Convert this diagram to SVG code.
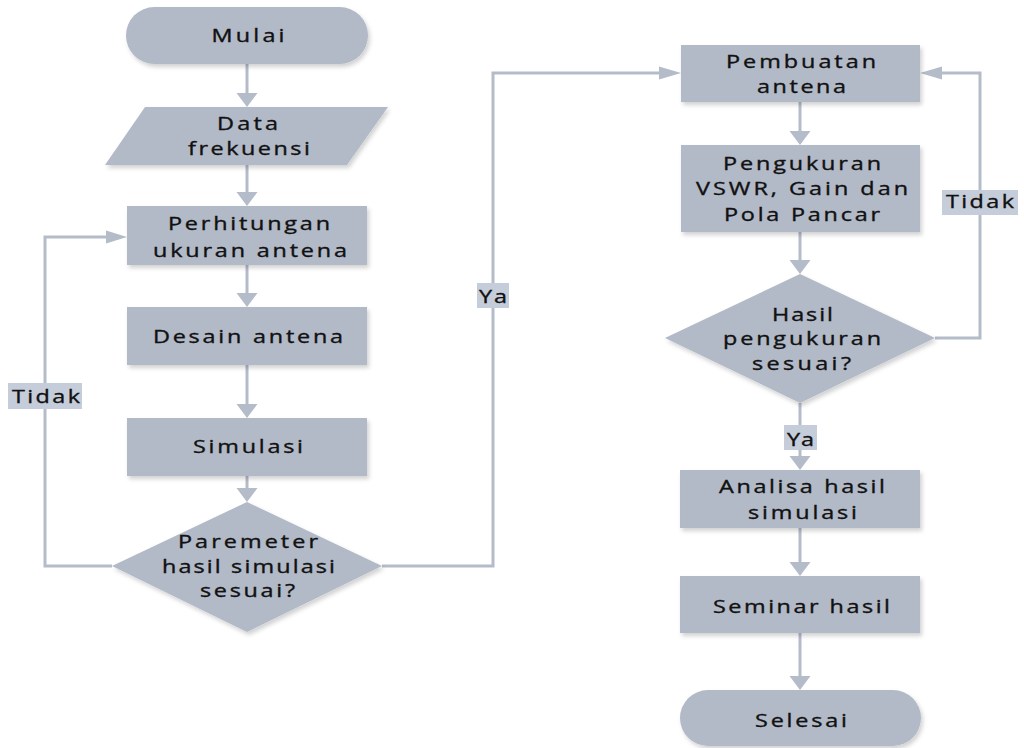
<svg xmlns="http://www.w3.org/2000/svg" width="1024" height="748" viewBox="0 0 1024 748">
<defs>
<filter id="sh" x="-10%" y="-10%" width="130%" height="140%">
<feDropShadow dx="2" dy="3" stdDeviation="2" flood-color="#000" flood-opacity="0.18"/>
</filter>
<style>
.n{fill:#b2b9c7;filter:url(#sh);}
.t{font-family:"Open Sans","Liberation Sans",sans-serif;font-size:18px;fill:#111111;stroke:#111111;stroke-width:0.35;text-anchor:middle;}
.c{fill:none;stroke:#b4bbc9;stroke-width:3;}
.a{fill:#b4bbc9;}
.lb{fill:#c6cdda;}
</style>
</defs>
<rect width="1024" height="748" fill="#ffffff"/>

<g id="connectors">
<path class="c" d="M247,64V94"/><polygon class="a" points="236.5,93 257.5,93 247,107"/>
<path class="c" d="M247,165V193"/><polygon class="a" points="236.5,192 257.5,192 247,206"/>
<path class="c" d="M247,265V294"/><polygon class="a" points="236.5,293 257.5,293 247,307"/>
<path class="c" d="M247,365V405"/><polygon class="a" points="236.5,404 257.5,404 247,418"/>
<path class="c" d="M247,476V489"/><polygon class="a" points="236.5,488 257.5,488 247,502"/>
<path class="c" d="M112,566H45V237H107"/><polygon class="a" points="106,230.5 106,243.5 127,237"/>
<path class="c" d="M382,566H493V73H660"/><polygon class="a" points="659,66.5 659,79.5 681,73"/>
<path class="c" d="M800,102V132"/><polygon class="a" points="789.5,131 810.5,131 800,145"/>
<path class="c" d="M800,232V261"/><polygon class="a" points="789.5,260 810.5,260 800,274"/>
<path class="c" d="M935,338H980V73H941"/><polygon class="a" points="942,66.5 942,79.5 920,73"/>
<path class="c" d="M800,403V457"/><polygon class="a" points="789.5,456 810.5,456 800,470"/>
<path class="c" d="M800,528V563"/><polygon class="a" points="789.5,562 810.5,562 800,576"/>
<path class="c" d="M800,633V677"/><polygon class="a" points="789.5,676 810.5,676 800,690"/>
<g id="label-tidak-left"><rect class="lb" x="8" y="383" width="74" height="26"/><text class="t" transform="matrix(1.3 0 0 1 -13.8 0)" x="46" y="403" textLength="52.3">Tidak</text></g>
<g id="label-ya-mid"><rect class="lb" x="477" y="283" width="32" height="25"/><text class="t" transform="matrix(1.3 0 0 1 -147.9 0)" x="493" y="303" textLength="21.5">Ya</text></g>
<g id="label-tidak-right"><rect class="lb" x="942" y="190" width="76" height="25"/><text class="t" transform="matrix(1.3 0 0 1 -294 0)" x="980" y="208" textLength="52.3">Tidak</text></g>
<g id="label-ya-low"><rect class="lb" x="784" y="425" width="33" height="25"/><text class="t" transform="matrix(1.3 0 0 1 -240.15 0)" x="800.5" y="446" textLength="20.8">Ya</text></g>
</g>

<g id="mulai"><rect class="n" x="126" y="7" width="242" height="57" rx="28.5"/><text class="t" transform="matrix(1.3 0 0 1 -74.4 0)" x="248" y="42" textLength="56.2">Mulai</text></g>
<g id="data"><polygon class="n" points="145,107 388,107 347,165 105,165"/><text class="t" transform="matrix(1.3 0 0 1 -74.25 0)" x="247.5" y="130" textLength="46.9">Data</text><text class="t" transform="matrix(1.3 0 0 1 -74.7 0)" x="249" y="155" textLength="93.8">frekuensi</text></g>
<g id="perhitungan"><rect class="n" x="127" y="206" width="240" height="59"/><text class="t" transform="matrix(1.3 0 0 1 -74.7 0)" x="249" y="230" textLength="124.6">Perhitungan</text><text class="t" transform="matrix(1.3 0 0 1 -75 0)" x="250" y="257" textLength="149.2">ukuran antena</text></g>
<g id="desain"><rect class="n" x="127" y="307" width="240" height="58"/><text class="t" transform="matrix(1.3 0 0 1 -74.4 0)" x="248" y="343" textLength="146.2">Desain antena</text></g>
<g id="simulasi"><rect class="n" x="127" y="418" width="240" height="58"/><text class="t" transform="matrix(1.3 0 0 1 -74.4 0)" x="248" y="453" textLength="84.6">Simulasi</text></g>
<g id="parameter"><polygon class="n" points="247,502 382,566 247,632 112,566"/><text class="t" transform="matrix(1.3 0 0 1 -74.4 0)" x="248" y="548" textLength="107.7">Paremeter</text><text class="t" transform="matrix(1.3 0 0 1 -74.55 0)" x="248.5" y="573" textLength="133.1">hasil simulasi</text><text class="t" transform="matrix(1.3 0 0 1 -74.25 0)" x="247.5" y="597" textLength="73.1">sesuai?</text></g>

<g id="pembuatan"><rect class="n" x="681" y="45" width="239" height="57"/><text class="t" transform="matrix(1.3 0 0 1 -240.3 0)" x="801" y="68" textLength="115.4">Pembuatan</text><text class="t" transform="matrix(1.3 0 0 1 -240.45 0)" x="801.5" y="93" textLength="68.5">antena</text></g>
<g id="pengukuran"><rect class="n" x="681" y="145" width="239" height="87"/><text class="t" transform="matrix(1.3 0 0 1 -240.6 0)" x="802" y="170" textLength="121.5">Pengukuran</text><text class="t" transform="matrix(1.3 0 0 1 -240.6 0)" x="802" y="195" textLength="163.1">VSWR, Gain dan</text><text class="t" transform="matrix(1.3 0 0 1 -240.6 0)" x="802" y="221" textLength="120">Pola Pancar</text></g>
<g id="hasil"><polygon class="n" points="800,274 935,338 800,403 665,338"/><text class="t" transform="matrix(1.3 0 0 1 -240.75 0)" x="802.5" y="321" textLength="46.9">Hasil</text><text class="t" transform="matrix(1.3 0 0 1 -240.6 0)" x="802" y="345" textLength="121.5">pengukuran</text><text class="t" transform="matrix(1.3 0 0 1 -240.45 0)" x="801.5" y="370" textLength="76.2">sesuai?</text></g>
<g id="analisa"><rect class="n" x="680" y="470" width="240" height="58"/><text class="t" transform="matrix(1.3 0 0 1 -240.6 0)" x="802" y="493" textLength="127.7">Analisa hasil</text><text class="t" transform="matrix(1.3 0 0 1 -240.75 0)" x="802.5" y="519" textLength="83.8">simulasi</text></g>
<g id="seminar"><rect class="n" x="680" y="576" width="240" height="57"/><text class="t" transform="matrix(1.3 0 0 1 -240.45 0)" x="801.5" y="613" textLength="136.2">Seminar hasil</text></g>
<g id="selesai"><rect class="n" x="680" y="690" width="241" height="56" rx="28"/><text class="t" transform="matrix(1.3 0 0 1 -240.3 0)" x="801" y="727" textLength="70.8">Selesai</text></g>
</svg>
